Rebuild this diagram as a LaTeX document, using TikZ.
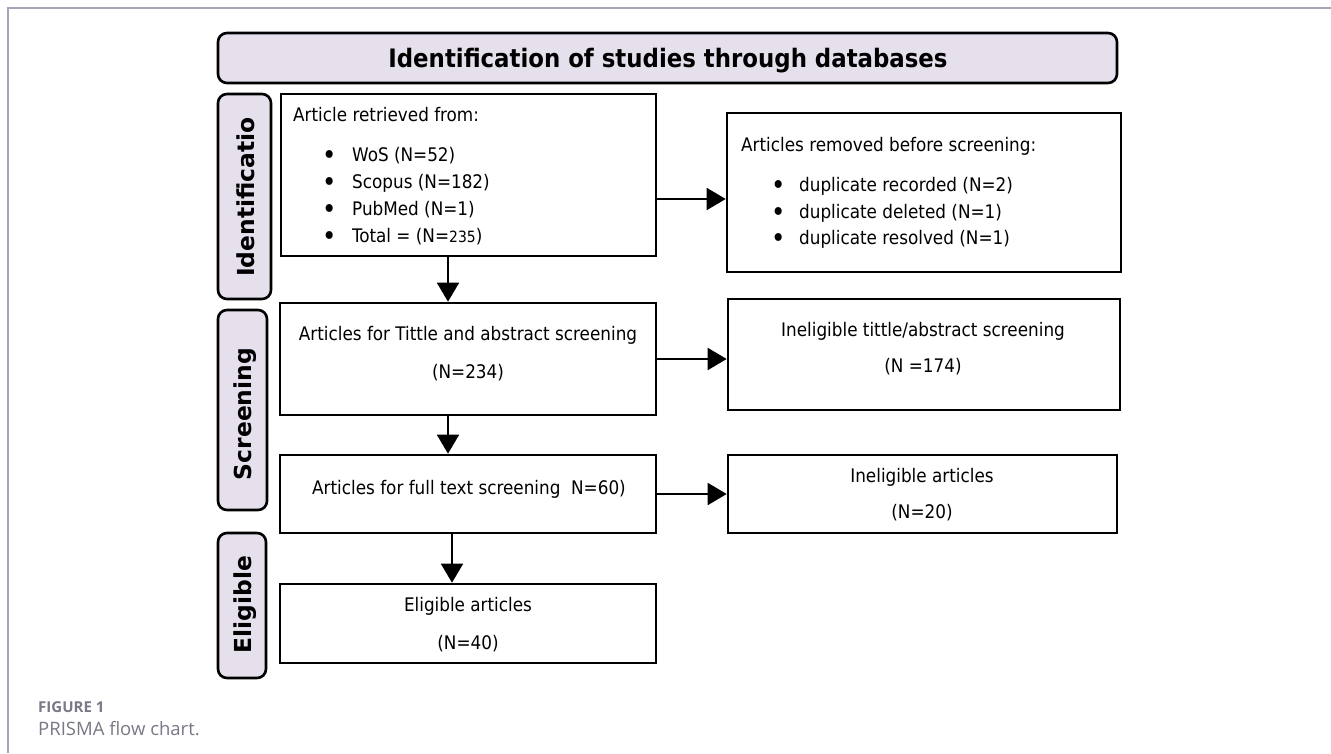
\documentclass[tikz,border=0pt]{standalone}
\usepackage{fontspec}
\usetikzlibrary{arrows.meta}
\newfontfamily\bodyfont{DejaVu Sans Condensed}
\newfontfamily\sidefont{DejaVu Sans}
\newfontfamily\capfont{Open Sans}
\definecolor{lav}{RGB}{230,224,237}
\definecolor{framegray}{RGB}{165,165,185}
\definecolor{capgray}{RGB}{120,120,135}
\newcommand{\bigbul}{\raisebox{-2.2pt}{\fontsize{27}{27}\selectfont\textbullet}}
\tikzset{
  box/.style={draw=black, line width=2.6pt, inner sep=0pt, rectangle},
  labbox/.style={draw=black, fill=lav, line width=2.6pt, rounded corners=9pt, inner sep=0pt},
  txt/.style={inner sep=0pt, font=\bodyfont\fontsize{18.7}{22}\selectfont, text height=13.6pt, text depth=0pt},
  sidetxt/.style={inner sep=0pt, rotate=90, font=\sidefont\bfseries\fontsize{23.4}{24}\selectfont, text height=17pt, text depth=0pt},
  arr/.style={line width=1.8pt, -{Triangle[length=19pt,width=22pt]}},
}
\begin{document}
\begin{tikzpicture}[x=1pt,y=-1pt]
\useasboundingbox[fill=white] (0,0) rectangle (1331,753);
\draw[framegray, line width=1.5pt] (8,753) -- (8,8) -- (1331,8);

% title and side labels
\node[labbox, minimum width=899pt, minimum height=50pt] (title) at (667.5,58) {};
\node[inner sep=0pt, font=\bodyfont\bfseries\fontsize{25.4}{27}\selectfont, text height=18.5pt, text depth=0pt] (titletxt) at (668,58) {Identification of studies through databases};
\node[labbox, minimum width=53pt, minimum height=205pt] (sid1) at (244.5,196.5) {};
\node[sidetxt] (sid1t) at (246,197) {Identificatio};
\node[labbox, minimum width=49pt, minimum height=200pt] (sid2) at (242.5,410) {};
\node[sidetxt] (sid2t) at (243,414) {Screening};
\node[labbox, minimum width=48pt, minimum height=145pt] (sid3) at (242,605.5) {};
\node[sidetxt] (sid3t) at (243,604.5) {Eligible};

% boxes
\node[box, minimum width=375pt, minimum height=162pt] (b1) at (468.5,175) {};
\node[box, minimum width=394pt, minimum height=159pt] (rem) at (924,192.5) {};
\node[box, minimum width=376pt, minimum height=112pt] (scr) at (468,359) {};
\node[box, minimum width=392pt, minimum height=111pt] (ine1) at (924,354.5) {};
\node[box, minimum width=376pt, minimum height=78pt] (full) at (468,494) {};
\node[box, minimum width=389pt, minimum height=78pt] (ine2) at (922.5,494) {};
\node[box, minimum width=376pt, minimum height=79pt] (elig) at (468,623.5) {};

% box texts
\node[txt, anchor=west] (b1h) at (293,115) {Article retrieved from:};
\node[txt, anchor=west] (b1a) at (322,155) {\makebox[30pt][l]{\bigbul}WoS (N=52)};
\node[txt, anchor=west] (b1b) at (322,182) {\makebox[30pt][l]{\bigbul}Scopus (N=182)};
\node[txt, anchor=west] (b1c) at (322,209) {\makebox[30pt][l]{\bigbul}PubMed (N=1)};
\node[txt, anchor=west] (b1d) at (322,236) {\makebox[30pt][l]{\bigbul}Total = (N={\fontsize{15.5}{16}\selectfont 235})};

\node[txt, anchor=west] (remh) at (741,145) {Articles removed before screening:};
\node[txt, anchor=west] (rema) at (771,185) {\makebox[28pt][l]{\bigbul}duplicate recorded (N=2)};
\node[txt, anchor=west] (remb) at (771,212) {\makebox[28pt][l]{\bigbul}duplicate deleted (N=1)};
\node[txt, anchor=west] (remc) at (771,238) {\makebox[28pt][l]{\bigbul}duplicate resolved (N=1)};

\node[txt] (scra) at (468,334) {Articles for Tittle and abstract screening};
\node[txt] (scrb) at (468,372) {(N=234)};
\node[txt] (ine1a) at (923,330) {Ineligible tittle/abstract screening};
\node[txt] (ine1b) at (923,366) {(N =174)};
\node[txt] (fulla) at (469,488) {Articles for full text screening\ \ N=60)};
\node[txt] (ine2a) at (922,476) {Ineligible articles};
\node[txt] (ine2b) at (922,512) {(N=20)};
\node[txt] (eliga) at (468,605) {Eligible articles};
\node[txt] (eligb) at (468,643) {(N=40)};

% arrows
\draw[arr] ([xshift=-20.5pt]b1.south) -- ([xshift=-20pt]scr.north);
\draw[arr] ([xshift=-20pt]scr.south) -- ([xshift=-20pt]full.north);
\draw[arr] ([xshift=-16pt]full.south) -- ([xshift=-16pt]elig.north);
\draw[arr] ([yshift=-24pt]b1.east) -- ([yshift=-24pt]b1.east -| rem.west);
\draw[arr] (scr.east) -- (scr.east -| ine1.west);
\draw[arr] (full.east) -- (full.east -| ine2.west);

% caption
\node[anchor=west, inner sep=0pt, font=\capfont\bfseries\fontsize{15}{16}\selectfont, text=capgray] (fig) at (38,707) {FIGURE 1};
\node[anchor=west, inner sep=0pt, font=\capfont\fontsize{18.5}{20}\selectfont, text=capgray] (cap) at (38,729) {PRISMA flow chart.};
\end{tikzpicture}
\end{document}
